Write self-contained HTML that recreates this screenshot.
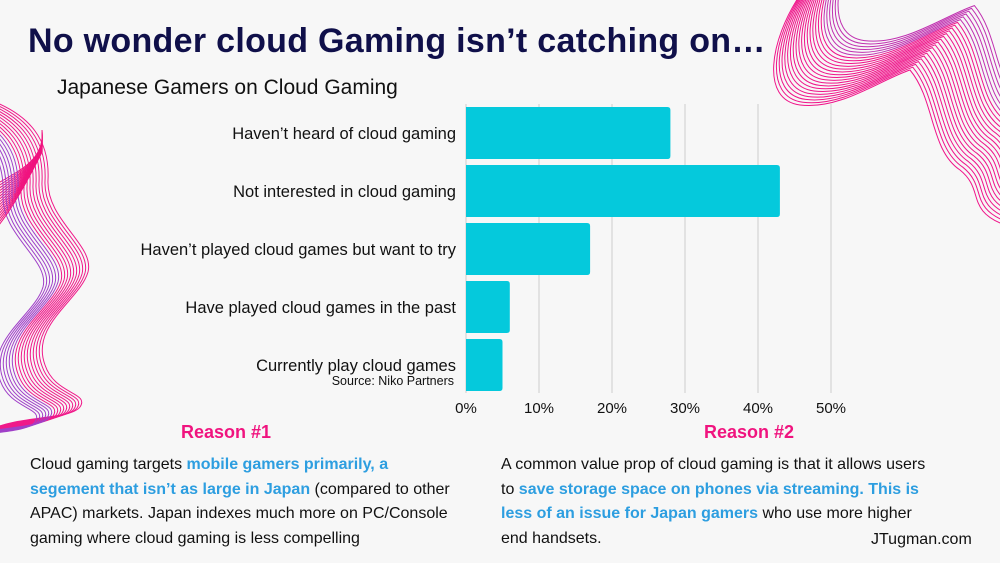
<!DOCTYPE html>
<html><head><meta charset="utf-8"><style>
body{margin:0;width:1000px;height:563px;background:#f7f7f7;overflow:hidden;position:relative;font-family:"Liberation Sans","DejaVu Sans",sans-serif;color:#111}
.abs{position:absolute}
h1{position:absolute;left:28px;top:22px;margin:0;font-size:34px;font-weight:bold;color:#10104a;letter-spacing:0.3px}
.sub{left:57px;top:76px;font-size:21px;color:#111}
.reason{font-size:18px;font-weight:bold;color:#f0147f}
.body{font-size:16px;line-height:24.5px;color:#111}
.hl{color:#2d9ee0;font-weight:bold}
</style></head><body>
<svg class="abs" style="left:0;top:0" width="1000" height="563" id="deco"></svg>
<h1>No wonder cloud Gaming isn’t catching on…</h1>
<div class="abs sub">Japanese Gamers on Cloud Gaming</div>
<svg class="abs" style="left:0;top:0" width="1000" height="563" id="chart"></svg>
<div class="abs reason" style="left:181px;top:422px">Reason #1</div>
<div class="abs reason" style="left:704px;top:422px">Reason #2</div>
<div class="abs body" style="left:30px;top:453px;width:430px">Cloud gaming targets <span class="hl">mobile gamers primarily, a segement that isn’t as large in Japan</span> (compared to other APAC) markets. Japan indexes much more on PC/Console gaming where cloud gaming is less compelling</div>
<div class="abs body" style="left:501px;top:453px;width:438px">A common value prop of cloud gaming is that it allows users to <span class="hl">save storage space on phones via streaming. This is less of an issue for Japan gamers</span> who use more higher end handsets.</div>
<div class="abs" style="left:871px;top:531px;font-size:16px">JTugman.com</div>
<script>
const categories=["Haven’t heard of cloud gaming","Not interested in cloud gaming","Haven’t played cloud games but want to try","Have played cloud games in the past","Currently play cloud games"];
const values=[28,43,17,6,5];
const ticks=[0,10,20,30,40,50];
const tickLabels=["0%","10%","20%","30%","40%","50%"];
const NS="http://www.w3.org/2000/svg";
const svg=document.getElementById('chart');
const x0=466,pxPer=7.3,top0=107,step=58,bh=52;
const xs=v=>x0+v*pxPer;
function mk(t,a,p){const e=document.createElementNS(NS,t);for(const k in a)e.setAttribute(k,a[k]);(p||svg).appendChild(e);return e;}
ticks.forEach((t,i)=>{
 const g=mk('line',{x1:xs(t),x2:xs(t),y1:104,y2:393,stroke:'#dcdcdc','stroke-width':1.5});
 
 
 const l=mk('text',{x:xs(t),y:413,'text-anchor':'middle','font-size':15,fill:'#111'});
 l.textContent=tickLabels[i];
 
 
});
values.forEach((v,i)=>{
 const y=top0+i*step;
 const r=mk('path',{d:`M${x0},${y}H${xs(v)-3}Q${xs(v)},${y} ${xs(v)},${y+3}V${y+bh-3}Q${xs(v)},${y+bh} ${xs(v)-3},${y+bh}H${x0}Z`,fill:'#05c9dc'});
 
 
 const t=mk('text',{x:456,y:y+bh/2+6,'text-anchor':'end','font-size':16.5,fill:'#111'});
 t.textContent=categories[i];
 
 
});
const s=mk('text',{x:454,y:385,'text-anchor':'end','font-size':12.5,fill:'#111'});
s.textContent='Source: Niko Partners';


// decorations
const d=document.getElementById('deco');
for(let i=0;i<24;i++){
 const c=i<18?'#f0148a':'#c030b0';
 const p=mk('path',{d:'M800,-5 C770,40 760,100 800,105 C840,110 880,80 910,70 C935,100 930,150 960,170 C985,190 965,210 1005,225',fill:'none',stroke:c,'stroke-width':1,transform:`translate(${i*2.8},${-i*2.8})`},d);
 
 
}
for(let i=0;i<16;i++){
 const c=i<10?'#f01a8a':'#a040c8';
 const p=mk('path',{d:'M-10,100 C30,115 50,140 48,180 C46,220 95,245 88,272 C80,300 30,325 45,365 C55,395 90,392 80,407 C70,420 20,415 -10,430',fill:'none',stroke:c,'stroke-width':1,transform:`translate(${-i*3},${i*1})`},d);
 
 
 const q=mk('path',{d:`M-5,${185+i*3} C20,${170+i*2} 45,${160-i} 42,${130+i*1.5}`,fill:'none',stroke:'#f0147f','stroke-width':1},d);
 
 
}
</script>
</body></html>
